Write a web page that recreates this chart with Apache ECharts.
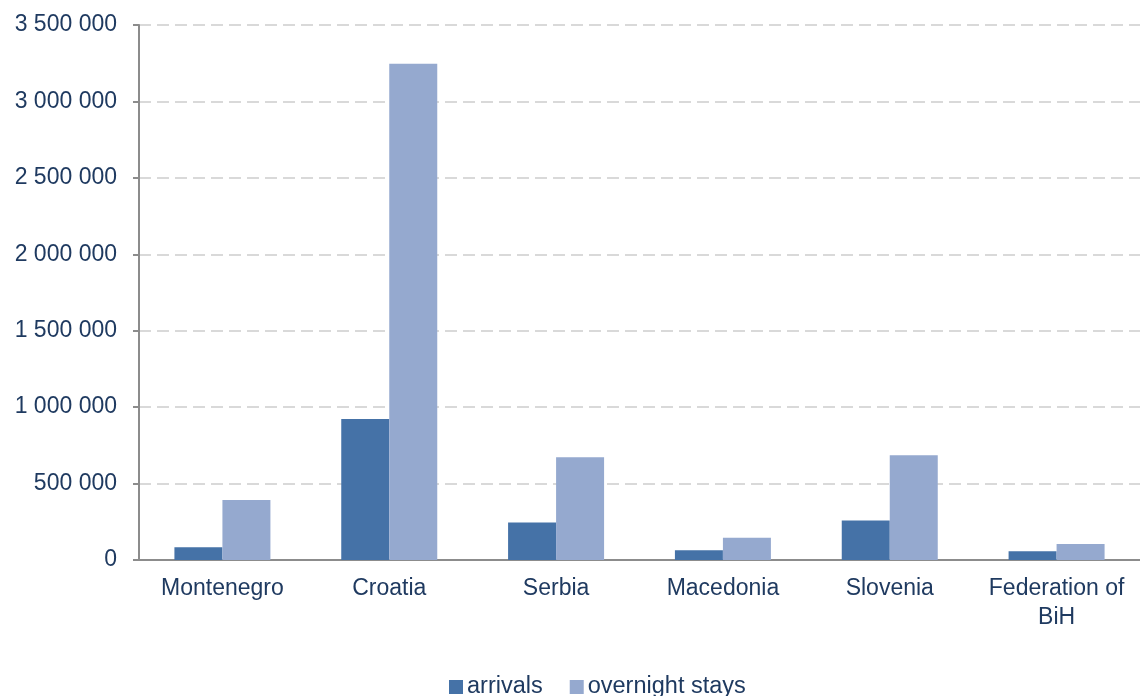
<!DOCTYPE html>
<html>
<head>
<meta charset="utf-8">
<script src="https://cdn.jsdelivr.net/npm/echarts@6/dist/echarts.min.js"></script>
<style>
html,body{margin:0;padding:0;background:#fff;}
#chart{width:1140px;height:696px;}
</style>
</head>
<body>
<div id="chart"></div>
<script>
var categories = ['Montenegro', 'Croatia', 'Serbia', 'Macedonia', 'Slovenia', 'Federation of BiH'];
var arrivals = [83000, 923000, 245000, 63000, 258000, 57000];
var overnightStays = [393000, 3246000, 672000, 146000, 686000, 105000];
var yTicks = [0, 500000, 1000000, 1500000, 2000000, 2500000, 3000000, 3500000];

var textColor = '#1F3A60';
var chart = echarts.init(document.getElementById('chart'));
chart.setOption({
  animation: false,
  backgroundColor: '#ffffff',
  textStyle: { fontFamily: 'Liberation Sans, Arial, sans-serif' },
  grid: { left: 139, right: 0, top: 25, bottom: 136 },
  legend: {
    left: 449, top: 675, padding: 0,
    itemWidth: 14, itemHeight: 14, itemGap: 27,
    icon: 'rect',
    textStyle: { color: textColor, fontSize: 23.5, padding: [0, 0, 0, -1] },
    data: ['arrivals', 'overnight stays']
  },
  xAxis: {
    type: 'category',
    data: categories,
    axisLine: { lineStyle: { color: '#8C8C8C', width: 2 } },
    axisTick: { length: 7, lineStyle: { color: '#8C8C8C', width: 2 } },
    axisLabel: {
      color: textColor, fontSize: 23, lineHeight: 29, margin: 14, interval: 0,
      formatter: function (v) { return v.replace(' BiH', '\nBiH'); }
    }
  },
  yAxis: {
    type: 'value',
    min: yTicks[0], max: yTicks[yTicks.length - 1], interval: 500000,
    axisLine: { show: true, lineStyle: { color: '#8C8C8C', width: 2 } },
    axisTick: { show: true, length: 6, lineStyle: { color: '#8C8C8C', width: 2 } },
    axisLabel: {
      color: textColor, fontSize: 23, margin: 22,
      formatter: function (v) { return String(v).replace(/\B(?=(\d{3})+(?!\d))/g, ' '); }
    },
    splitLine: { lineStyle: { color: '#D9D9D9', width: 2, type: [12, 6] } }
  },
  series: [
    { name: 'arrivals', type: 'bar', data: arrivals, barWidth: 48, barGap: '0%',
      itemStyle: { color: '#4572A7' } },
    { name: 'overnight stays', type: 'bar', data: overnightStays, barWidth: 48,
      itemStyle: { color: '#95A9CF' } }
  ]
});
</script>
</body>
</html>
